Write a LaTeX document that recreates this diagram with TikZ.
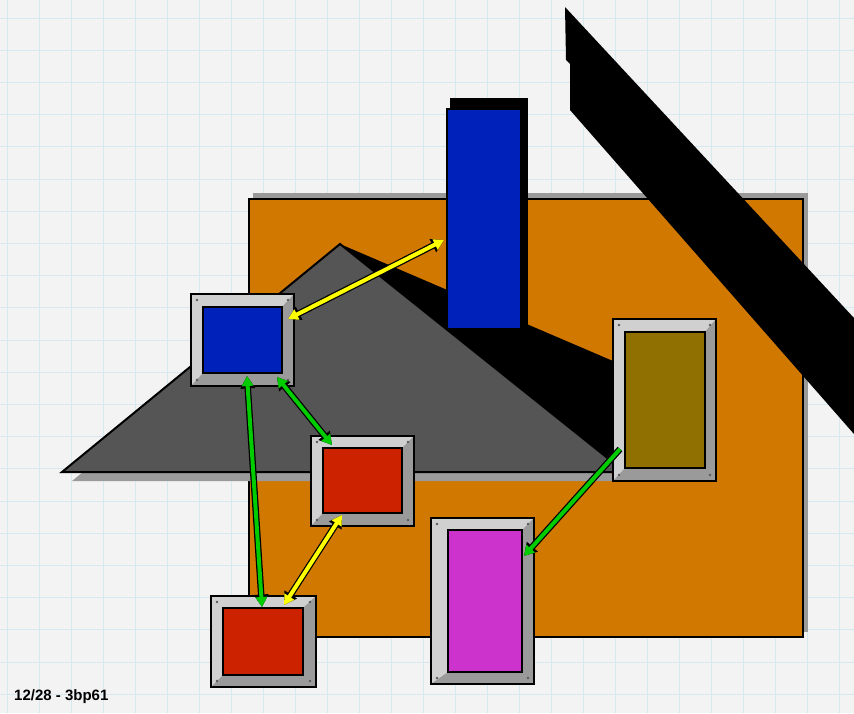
\documentclass[tikz,border=0pt]{standalone}
\usepackage{fontspec}
\setmainfont{Liberation Sans}
\usetikzlibrary{arrows.meta,calc}
\definecolor{bgc}{HTML}{F3F3F3}
\definecolor{gridc}{HTML}{D8E8F0}
\definecolor{orng}{HTML}{D07800}
\definecolor{shd}{HTML}{9A9A9A}
\definecolor{tri}{HTML}{555555}
\definecolor{nblue}{HTML}{0022BB}
\definecolor{nred}{HTML}{CC2200}
\definecolor{nolive}{HTML}{8F7000}
\definecolor{nmag}{HTML}{CC33CC}
\definecolor{frlight}{HTML}{D0D0D0}
\definecolor{frdark}{HTML}{9A9A9A}
\definecolor{lgreen}{HTML}{00CC00}
\definecolor{lyellow}{HTML}{FFFF00}
\newcommand\mybevel[2]{%
  \fill[frdark] (#1.north east) -- (#1.south east) -- (#1.south west) -- (#2.south west) -- (#2.south east) -- (#2.north east) -- cycle;
  \draw[black,line width=2pt] (#1.north west) rectangle (#1.south east);
  \draw[black,line width=1.6pt] (#2.north west) rectangle (#2.south east);
  \fill[black!65] ($(#1.north west)+(6,6)$) circle (1.4pt);
  \fill[black!65] ($(#1.north east)+(-6,6)$) circle (1.4pt);
  \fill[black!65] ($(#1.south west)+(6,-6)$) circle (1.4pt);
  \fill[black!65] ($(#1.south east)+(-6,-6)$) circle (1.4pt);
}
\tikzset{
  tipc/.tip={Triangle[length=10pt,width=11pt]},
  tipb/.tip={Triangle[length=12.5pt,width=14pt]}
}
\begin{document}
\begin{tikzpicture}[x=1pt,y=-1pt,
  outerbox/.style={draw=black,line width=2pt,fill=frlight,inner sep=0pt,outer sep=0pt},
  innerbox/.style={draw=black,line width=1.6pt,inner sep=0pt,outer sep=0pt},
  twoway/.style={line width=4pt,tipc-tipc,preaction={draw=black,line width=6.5pt,tipb-tipb}},
  oneway/.style={line width=4pt,-tipc,preaction={draw=black,line width=6.5pt,-tipb}},
  gline/.style={draw=lgreen},
  yline/.style={draw=lyellow}
]
\useasboundingbox (0,0) rectangle (854,713);
\fill[bgc] (0,0) rectangle (854,713);
\foreach \i in {0,...,26} \draw[gridc,line width=1pt] (7.7+32*\i,0) -- ++(0,713);
\foreach \j in {0,...,21} \draw[gridc,line width=1pt] (0,18+32.2*\j) -- ++(854,0);

% orange panel with shadow
\fill[shd] (253,193) rectangle (808,632);
\filldraw[fill=orng,draw=black,line width=2pt] (249,199) rectangle (803,637);

% black diagonal band
\fill[black] (565,7) -- (566,60) -- (570,64) -- (570,110) -- (854,434) -- (854,318) -- cycle;

% triangle with shadows
\fill[black] (340,244) -- (620,364) -- (620,472) -- cycle;
\fill[shd] (72,481) -- (350,253) -- (620,481) -- cycle;
\filldraw[fill=tri,draw=black,line width=2pt,line join=miter] (62,472) -- (340,244) -- (625,472) -- cycle;

% blue bar
\fill[black] (450,98) rectangle (528,325);
\node[draw=black,line width=2pt,fill=nblue,inner sep=0pt,outer sep=0pt,minimum width=74pt,minimum height=220pt] (bar) at (484,219) {};

% framed boxes
\node[outerbox,minimum width=103pt,minimum height=92pt] (blue) at (242.5,340) {};
\node[innerbox,fill=nblue,minimum width=79pt,minimum height=66pt] (blueIn) at (242.5,340) {};
\mybevel{blue}{blueIn}

\node[outerbox,minimum width=103pt,minimum height=90pt] (redA) at (362.5,481) {};
\node[innerbox,fill=nred,minimum width=79pt,minimum height=65pt] (redAIn) at (362.5,480.5) {};
\mybevel{redA}{redAIn}

\node[outerbox,minimum width=105pt,minimum height=91pt] (redB) at (263.5,641.5) {};
\node[innerbox,fill=nred,minimum width=80pt,minimum height=67pt] (redBIn) at (263,641.5) {};
\mybevel{redB}{redBIn}

\node[outerbox,minimum width=103pt,minimum height=162pt] (olive) at (664.5,400) {};
\node[innerbox,fill=nolive,minimum width=80pt,minimum height=136pt] (oliveIn) at (665,400) {};
\mybevel{olive}{oliveIn}

\node[outerbox,minimum width=103pt,minimum height=166pt] (mag) at (482.5,601) {};
\node[innerbox,fill=nmag,minimum width=74pt,minimum height=142pt] (magIn) at (485,601) {};
\mybevel{mag}{magIn}

% connectors
\draw[twoway,yline] ([xshift=-6pt,yshift=-25pt]blue.north east) -- ([xshift=-3pt,yshift=-21pt]bar.west);
\draw[twoway,gline] ([xshift=4.5pt,yshift=10pt]blue.south) -- ([xshift=-1.5pt,yshift=-11pt]redB.north);
\draw[twoway,gline] ([xshift=34.5pt,yshift=9pt]blue.south) -- ([xshift=-30.5pt,yshift=-9pt]redA.north);
\draw[twoway,yline] ([xshift=-20.5pt,yshift=11pt]redA.south) -- ([xshift=20.5pt,yshift=-9pt]redB.north);
\draw[oneway,gline] ([xshift=7pt,yshift=-49pt]olive.west) -- ([xshift=-10pt,yshift=45pt]mag.east);

% stamp text
\node[anchor=west,inner sep=0pt,font=\bfseries\fontsize{15}{15}\selectfont] (stamp) at (14,697) {12/28 - 3bp61};
\end{tikzpicture}
\end{document}
